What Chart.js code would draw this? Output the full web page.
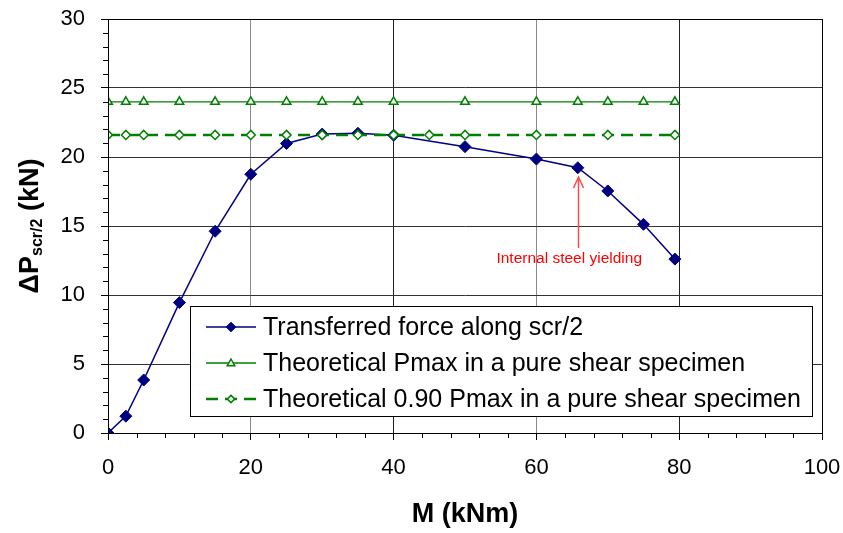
<!DOCTYPE html>
<html>
<head>
<meta charset="utf-8">
<script src="https://cdn.jsdelivr.net/npm/chart.js@4.4.1/dist/chart.umd.min.js"></script>
<style>
  body { margin: 0; background: #fff; }
  #c { display: block; }
</style>
</head>
<body>
<canvas id="c" width="843" height="533"></canvas>
<script>
// series data
var forceX = [0, 2.5, 5, 10, 15, 20, 25, 30, 35, 40, 50, 60, 65.8, 70, 75, 79.4];
var forceY = [0, 1.22, 3.84, 9.45, 14.62, 18.75, 20.98, 21.66, 21.72, 21.58, 20.75, 19.85, 19.22, 17.54, 15.12, 12.6];
var pmaxX = [0, 2.5, 5, 10, 15, 20, 25, 30, 35, 40, 50, 60, 65.8, 70, 75, 79.4];
var pmaxVal = 24.0;
var p90X = [0, 2.5, 5, 10, 15, 20, 25, 30, 35, 40, 45, 50, 60, 70, 79.4];
var p90Val = 21.6;
var xTicks = [0, 20, 40, 60, 80, 100];
var yTicks = [0, 5, 10, 15, 20, 25, 30];
var seriesNames = [
    "Transferred force along scr/2",
    "Theoretical Pmax in a pure shear specimen",
    "Theoretical 0.90 Pmax in a pure shear specimen"
];
var noteText = "Internal steel yielding";
var noteX = 65.8;          // where the arrow points (M)
var noteArrowFrom = 13.4;  // arrow tail (kN)
var noteArrowTo = 18.55;   // arrow tip (kN)
var noteTextX = 64.6;
var noteTextY = 12.6;

var FONT = "'Liberation Sans', Arial, sans-serif";
var NAVY = "#000080";
var GREEN = "#008000";

function pts(xs, ys) {
    return xs.map(function(x, i) { return {x: x, y: Array.isArray(ys) ? ys[i] : ys}; });
}

// minor tick marks on both axes
const minorTicks = {
    id: "minorTicks",
    afterDraw: function(chart) {
        var ctx = chart.ctx, xs = chart.scales.x, ys = chart.scales.y, ca = chart.chartArea;
        ctx.save();
        ctx.strokeStyle = "#000";
        ctx.lineWidth = 1;
        ctx.beginPath();
        for (var v = 4; v < 100; v += 4) {
            if (v % 20 === 0) continue;
            var px = Math.round(xs.getPixelForValue(v)) + 0.5;
            ctx.moveTo(px, ca.bottom);
            ctx.lineTo(px, ca.bottom + 5);
        }
        for (var w = 1; w < 30; w++) {
            if (w % 5 === 0) continue;
            var py = Math.round(ys.getPixelForValue(w)) + 0.5;
            ctx.moveTo(ca.left - 5, py);
            ctx.lineTo(ca.left, py);
        }
        ctx.stroke();
        // frame round the plot
        ctx.strokeStyle = "#000";
        ctx.strokeRect(Math.round(ca.left) + 0.5, Math.round(ca.top) + 0.5, Math.round(ca.right - ca.left), Math.round(ca.bottom - ca.top));
        ctx.restore();
    }
};

// y title with subscript
const yTitle = {
    id: "yTitle",
    afterDraw: function(chart) {
        var ctx = chart.ctx, ca = chart.chartArea;
        var big = "bold 27px " + FONT, small = "bold 16px " + FONT;
        var parts = [["\u0394P", big, 0], ["scr/2", small, 7], [" (kN)", big, 0]];
        ctx.save();
        var total = 0;
        parts.forEach(function(p) { ctx.font = p[1]; total += ctx.measureText(p[0]).width; });
        ctx.translate(31, (ca.top + ca.bottom) / 2);
        ctx.rotate(-Math.PI / 2);
        ctx.fillStyle = "#000";
        ctx.textBaseline = "middle";
        var x = -total / 2;
        parts.forEach(function(p) {
            ctx.font = p[1];
            ctx.fillText(p[0], x, p[2]);
            x += ctx.measureText(p[0]).width;
        });
        ctx.restore();
    }
};

// red note with arrow
const note = {
    id: "note",
    afterDatasetsDraw: function(chart) {
        var ctx = chart.ctx, xs = chart.scales.x, ys = chart.scales.y;
        var ax = Math.round(xs.getPixelForValue(noteX)) + 0.5;
        var y0 = ys.getPixelForValue(noteArrowFrom), y1 = ys.getPixelForValue(noteArrowTo);
        ctx.save();
        ctx.strokeStyle = "#ff4a4a";
        ctx.lineWidth = 1.5;
        ctx.beginPath();
        ctx.moveTo(ax, y0);
        ctx.lineTo(ax, y1);
        ctx.moveTo(ax - 5, y1 + 11);
        ctx.lineTo(ax, y1);
        ctx.lineTo(ax + 5, y1 + 11);
        ctx.stroke();
        ctx.fillStyle = "#ff0000";
        ctx.font = "15.5px " + FONT;
        ctx.textAlign = "center";
        ctx.textBaseline = "middle";
        ctx.fillText(noteText, xs.getPixelForValue(noteTextX), ys.getPixelForValue(noteTextY));
        ctx.restore();
    }
};

// legend box inside the plot
const boxLegend = {
    id: "boxLegend",
    afterDraw: function(chart) {
        var ctx = chart.ctx, ca = chart.chartArea;
        var left = ca.left + 82, top = ca.top + 287, w = 622, h = 110;
        ctx.save();
        ctx.fillStyle = "#fff";
        ctx.fillRect(left, top, w, h);
        ctx.strokeStyle = "#000";
        ctx.lineWidth = 1;
        ctx.strokeRect(Math.round(left) + 0.5, Math.round(top) + 0.5, w, h);
        var rows = [top + 21, top + 57, top + 93];
        chart.data.datasets.forEach(function(ds, i) {
            var y = rows[i];
            ctx.save();
            ctx.strokeStyle = ds.borderColor;
            ctx.lineWidth = ds.borderWidth;
            ctx.setLineDash(ds.borderDash || []);
            ctx.beginPath();
            ctx.moveTo(left + 16, y);
            ctx.lineTo(left + 66, y);
            ctx.stroke();
            ctx.restore();
            ctx.fillStyle = ds.pointBackgroundColor;
            ctx.strokeStyle = ds.pointBorderColor;
            ctx.lineWidth = ds.pointBorderWidth;
            ctx.beginPath();
            var r = ds.pointRadius * 0.8, cx = left + 41;
            if (ds.pointStyle === "triangle") {
                ctx.moveTo(cx, y - r);
                ctx.lineTo(cx + r * 0.95, y + r * 0.7);
                ctx.lineTo(cx - r * 0.95, y + r * 0.7);
            } else {
                ctx.moveTo(cx, y - r);
                ctx.lineTo(cx + r, y);
                ctx.lineTo(cx, y + r);
                ctx.lineTo(cx - r, y);
            }
            ctx.closePath();
            ctx.fill();
            ctx.stroke();
            ctx.fillStyle = "#000";
            ctx.font = "25px " + FONT;
            ctx.textBaseline = "middle";
            ctx.fillText(seriesNames[i], left + 73, y + 1);
        });
        ctx.restore();
    }
};

new Chart(document.getElementById("c"), {
    type: "scatter",
    data: {
        datasets: [{
            data: pts(forceX, forceY),
            showLine: true,
            borderColor: NAVY,
            borderWidth: 1.5,
            pointStyle: "rectRot",
            pointRadius: 6,
            pointBackgroundColor: NAVY,
            pointBorderColor: NAVY,
            pointBorderWidth: 1,
            order: 2
        }, {
            data: pts(pmaxX, pmaxVal),
            showLine: true,
            borderColor: GREEN,
            borderWidth: 1.3,
            pointStyle: "triangle",
            pointRadius: 5,
            pointBackgroundColor: "#fff",
            pointBorderColor: GREEN,
            pointBorderWidth: 1.5,
            order: 1
        }, {
            data: pts(p90X, p90Val),
            showLine: true,
            borderColor: GREEN,
            borderWidth: 2.5,
            borderDash: [12, 7],
            pointStyle: "rectRot",
            pointRadius: 4.5,
            pointBackgroundColor: "#fff",
            pointBorderColor: GREEN,
            pointBorderWidth: 1.5,
            order: 0
        }]
    },
    options: {
        responsive: false,
        animation: false,
        layout: { padding: { left: 0, top: 19, right: 21, bottom: 0 } },
        plugins: {
            legend: { display: false },
            tooltip: { enabled: false }
        },
        scales: {
            x: {
                type: "linear",
                min: 0,
                max: 100,
                afterBuildTicks: function(s) { s.ticks = xTicks.map(function(v) { return {value: v}; }); },
                afterFit: function(s) { s.height = 100; s.paddingLeft = 0; s.paddingRight = 0; },
                ticks: {
                    color: "#000",
                    font: { family: FONT, size: 22 },
                    padding: 15,
                    maxRotation: 0
                },
                grid: {
                    color: function(c) { return (c.tick && c.tick.value % 40 === 20) ? "#8a8a8a" : "#222"; },
                    tickColor: "#000",
                    tickLength: 7,
                    lineWidth: 1
                },
                border: { color: "#000", width: 1 },
                title: {
                    display: true,
                    text: "M (kNm)",
                    color: "#000",
                    font: { family: FONT, size: 27, weight: "bold" },
                    padding: { top: 4, bottom: 2 }
                }
            },
            y: {
                type: "linear",
                min: 0,
                max: 30,
                afterBuildTicks: function(s) { s.ticks = yTicks.map(function(v) { return {value: v}; }); },
                afterFit: function(s) { s.width = 108; s.paddingTop = 0; s.paddingBottom = 0; },
                ticks: {
                    color: "#000",
                    font: { family: FONT, size: 22 },
                    padding: 16
                },
                grid: {
                    color: "#333",
                    tickColor: "#000",
                    tickLength: 7,
                    lineWidth: 1
                },
                border: { color: "#000", width: 1 }
            }
        }
    },
    plugins: [minorTicks, yTitle, note, boxLegend]
});
</script>
</body>
</html>
